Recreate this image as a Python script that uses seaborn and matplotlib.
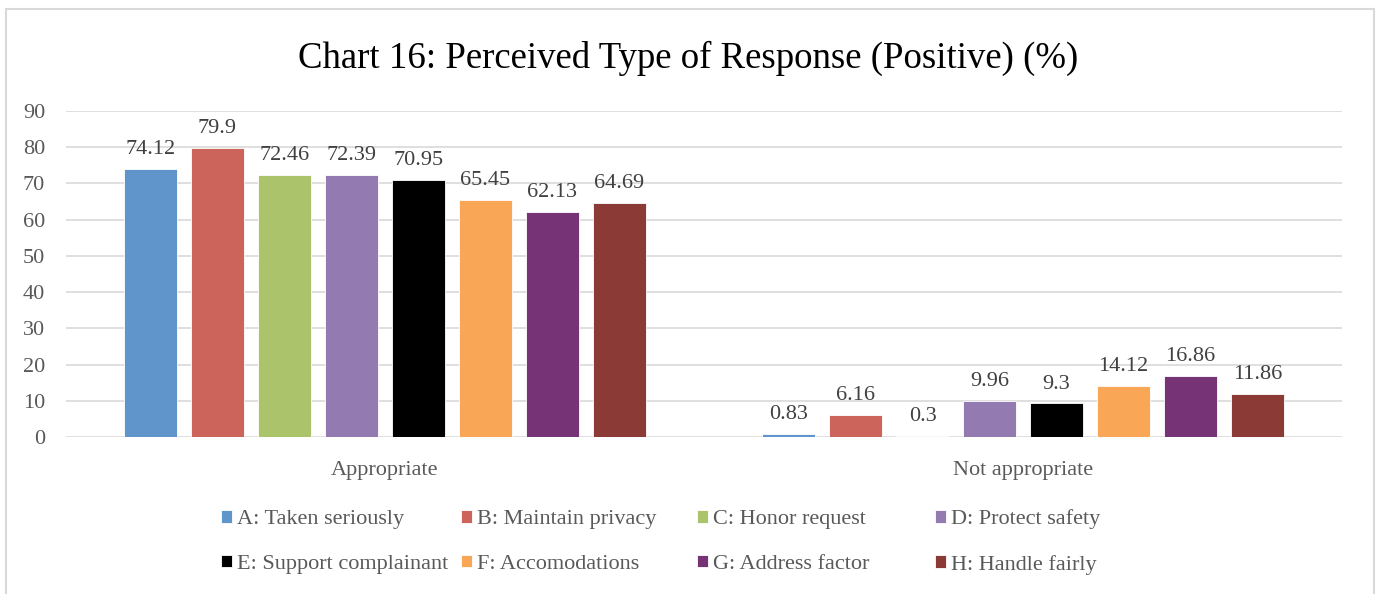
import pandas as pd                                                  # To build the long-form table for seaborn.
import matplotlib.pyplot as plt                                      # Figure, border and text.
import seaborn as sns                                                # Grouped bars.
from matplotlib.patches import Rectangle

categories = ["Appropriate", "Not appropriate"]
series = ["A: Taken seriously", "B: Maintain privacy", "C: Honor request", "D: Protect safety",
          "E: Support complainant", "F: Accomodations", "G: Address factor", "H: Handle fairly"]
appropriate = [74.12, 79.9, 72.46, 72.39, 70.95, 65.45, 62.13, 64.69]
not_appropriate = [0.83, 6.16, 0.3, 9.96, 9.3, 14.12, 16.86, 11.86]
colors = ["#5F95CB", "#CD645C", "#ABC46B", "#937AB1", "#000000", "#F9A656", "#763476", "#8B3A36"]
y_ticks = [0, 10, 20, 30, 40, 50, 60, 70, 80, 90]

rows = []                                                            # One row per bar.
for name, a, n in zip(series, appropriate, not_appropriate):
    rows.append({"Category": categories[0], "Series": name, "Value": a})
    rows.append({"Category": categories[1], "Series": name, "Value": n})
df = pd.DataFrame(rows)

sns.set_theme(style="white")
plt.rcParams['font.family'] = ['Liberation Serif', 'DejaVu Serif']

fig = plt.figure(figsize=(13.77, 5.94), dpi=100)
ax = fig.add_axes([0.0479, 0.2643, 0.9267, 0.5488])

sns.barplot(data=df, x="Category", y="Value", hue="Series", order=categories, hue_order=series,
            palette=colors, saturation=1, width=0.84, gap=0.2, edgecolor="white", linewidth=0.6,
            ax=ax, legend=True)

for cont, name in zip(ax.containers, series):                        # Data labels as printed in the chart
    vals = df[df["Series"] == name].set_index("Category").loc[categories, "Value"]
    ax.bar_label(cont, labels=[f"{v:g}" for v in vals], padding=7, fontsize=16, color="#404040")

ax.set_xlim(-0.5, 1.5)
ax.set_ylim(0, 90)
ax.set_yticks(y_ticks)
ax.yaxis.grid(True, color="#D9D9D9", linewidth=1.2)
ax.set_axisbelow(True)
for s in ax.spines.values():
    s.set_visible(False)
ax.tick_params(axis="y", length=0, pad=15, labelsize=16, labelcolor="#595959")
ax.tick_params(axis="x", length=0, pad=17, labelsize=16, labelcolor="#595959")
ax.set_xlabel("")
ax.set_ylabel("")

handles, labels = ax.get_legend_handles_labels()
ax.legend_.remove()
col_left = [221, 461, 697, 935]                                      # Legend columns sit at fixed spots, like the original
for c, x in enumerate(col_left):
    fig.legend([handles[c], handles[c + 4]], [labels[c], labels[c + 4]], loc="center left",
               bbox_to_anchor=(x / 1377, 0.0875), ncol=1, frameon=False, borderpad=0,
               borderaxespad=0, fontsize=16, labelcolor="#595959", handlelength=0.5,
               handleheight=0.5, handletextpad=0.2, labelspacing=1.15)

fig.text(0.5, 0.902, "Chart 16: Perceived Type of Response (Positive) (%)", ha="center", va="center",
         fontsize=26.5, color="#000000")

fig.patches.append(Rectangle((0.0045, -0.01), 0.993, 0.995, transform=fig.transFigure,
                             fill=False, edgecolor="#D9D9D9", linewidth=1.5))

fig.savefig("out.png", dpi=100)
